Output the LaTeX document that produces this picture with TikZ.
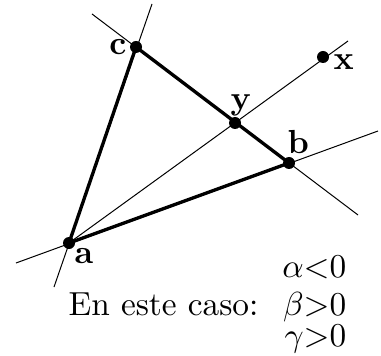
\documentclass[tikz,border=0pt]{standalone}
\begin{document}
\begin{tikzpicture}[x=0.3pt,y=-0.3pt,
  dot/.style={circle,fill=black,inner sep=0pt,minimum size=3.6pt},
  guide/.style={line width=0.3pt},
  side/.style={line width=1pt},
  lbl/.style={inner sep=0pt,font=\bfseries},
  txt/.style={inner sep=0pt}]
\useasboundingbox (0,0) rectangle (381,355);
% line extensions
\coordinate (ac1) at (152,4);
\coordinate (ac2) at (54,287);
\coordinate (ab1) at (16,263);
\coordinate (ab2) at (378,131);
\coordinate (cb1) at (92,14);
\coordinate (cb2) at (358,215);
\coordinate (ax2) at (348,41);
\coordinate (pa) at (69,243);
\coordinate (pb) at (289,163);
\coordinate (pc) at (136,47);
% thin lines
\draw[guide] (ac2) -- (ac1);
\draw[guide] (ab1) -- (ab2);
\draw[guide] (cb1) -- (cb2);
\draw[guide] (pa) -- (ax2);
% triangle sides
\draw[side] (pa) -- (pc) -- (pb) -- cycle;
% points
\node[dot] (a) at (pa) {};
\node[dot] (b) at (pb) {};
\node[dot] (c) at (pc) {};
\node[dot] (y) at (235,123) {};
\node[dot] (x) at (323,57) {};
% labels
\node[lbl,anchor=base west] (la) at (74,263) {a};
\node[lbl,anchor=base west] (lb) at (287,154) {b};
\node[lbl,anchor=base east] (lc) at (127,55) {c};
\node[lbl,anchor=base west] (ly) at (230,110) {y};
\node[lbl,anchor=base west] (lx) at (333,70) {x};
% text
\node[txt,anchor=base west] (caso) at (68,315) {En este caso:};
\node[txt,anchor=base east] (al) at (347,277) {$\alpha{<}0$};
\node[txt,anchor=base east] (be) at (347,315) {$\beta{>}0$};
\node[txt,anchor=base east] (ga) at (347,346) {$\gamma{>}0$};
\end{tikzpicture}
\end{document}
